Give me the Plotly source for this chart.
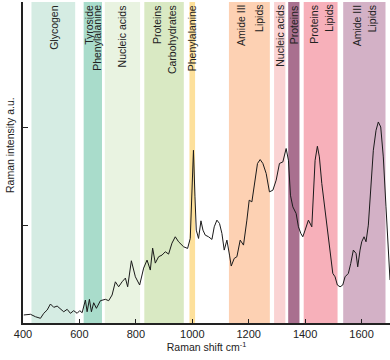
import plotly.graph_objects as go

# ---- data ----
shift = [402.8, 426.5, 444.2, 461.9, 473.6, 485.7, 497.3, 509.0, 521.1, 532.7,
         544.4, 556.5, 568.1, 579.8, 591.9, 601.1, 609.6, 621.2, 627.3, 635.4,
         642.5, 650.6, 660.2, 674.3, 692.0, 703.7, 715.8, 727.4, 739.1, 751.2,
         762.9, 771.0, 784.1, 798.3, 813.5, 827.6, 839.7, 851.3, 859.5, 869.0,
         880.7, 892.7, 904.4, 916.1, 928.1, 939.8, 951.5, 969.2, 983.4, 992.9,
         998.9, 1004.2, 1009.6, 1014.2, 1022.3, 1030.8, 1037.9, 1046.0, 1057.7, 1069.7,
         1077.9, 1087.4, 1096.6, 1105.1, 1113.3, 1122.8, 1132.0, 1138.1, 1148.7, 1158.2,
         1169.9, 1181.6, 1193.6, 1201.8, 1211.3, 1223.0, 1231.2, 1240.7, 1250.3, 1262.0,
         1273.6, 1285.7, 1297.4, 1309.0, 1321.1, 1332.7, 1340.9, 1348.0, 1356.5, 1368.1,
         1376.3, 1384.8, 1391.8, 1400.0, 1411.7, 1423.7, 1429.4, 1435.4, 1443.5, 1450.6,
         1459.1, 1470.8, 1482.5, 1491.0, 1498.1, 1506.2, 1514.3, 1523.9, 1533.4, 1541.6,
         1553.3, 1561.8, 1571.0, 1580.5, 1586.5, 1594.7, 1600.7, 1608.9, 1615.9, 1624.1,
         1632.6, 1641.8, 1651.4, 1659.5, 1668.0, 1677.2, 1686.7, 1694.9, 1700.9]
intensity = [0.082, 0.089, 0.064, 0.048, 0.099, 0.133, 0.194, 0.160, 0.173, 0.140,
             0.115, 0.140, 0.099, 0.126, 0.099, 0.126, 0.105, 0.235, 0.115, 0.242,
             0.115, 0.207, 0.150, 0.228, 0.242, 0.228, 0.286, 0.421, 0.370, 0.421,
             0.459, 0.370, 0.636, 0.472, 0.388, 0.561, 0.643, 0.541, 0.765, 0.612,
             0.677, 0.694, 0.728, 0.704, 0.816, 0.881, 0.830, 0.779, 0.762, 0.864,
             1.289, 1.765, 1.289, 0.949, 0.864, 1.044, 0.949, 0.898, 0.881, 0.854,
             0.983, 1.051, 1.017, 0.915, 0.745, 0.847, 0.694, 0.582, 0.660, 0.677,
             0.847, 0.796, 1.051, 1.255, 1.238, 1.442, 1.630, 1.670, 1.630, 1.528,
             1.340, 1.357, 1.459, 1.630, 1.646, 1.783, 1.663, 1.306, 1.187, 1.119,
             0.983, 0.915, 0.881, 0.949, 1.051, 0.983, 1.289, 1.663, 1.806, 1.697,
             1.426, 1.153, 0.898, 0.711, 0.507, 0.472, 0.388, 0.370, 0.388, 0.472,
             0.507, 0.609, 0.745, 0.711, 0.574, 0.745, 0.830, 0.881, 0.830, 1.000,
             1.391, 1.765, 1.969, 2.054, 2.003, 1.697, 1.187, 0.711, 0.439]

band_start = [430, 615, 690, 830, 990, 1130, 1290, 1340, 1395, 1535]
band_end = [585, 680, 815, 970, 1010, 1275, 1330, 1380, 1515, 1685]
band_labels = [["Glycogen"], ["Tyroside", "Phenylalanine"], ["Nucleic acids"],
               ["Proteins", "Carbohydrates"], ["Phenylalanine"], ["Amide III", "Lipids"],
               ["Nucleic acids"], ["Proteins"], ["Proteins", "Lipids"], ["Amide III", "Lipids"]]

x_ticks = [400, 600, 800, 1000, 1200, 1400, 1600]
y_ticks = [1, 2]
x_title = "Raman shift cm<sup>-1</sup>"
y_title = "Raman intensity a.u."

# ---- style ----
band_colors = ["#d5ece3", "#a9dccb", "#e9f3e1", "#d9e9c3", "#fde09b",
               "#fdd1b3", "#fad3d3", "#a9708f", "#f7b0ba", "#d3b1c6"]
line_gaps = [0, 8, 0, 15, 0, 18, 0, 0, 15, 15]
FONT = "Liberation Sans, Arial, sans-serif"
TXT = "#222222"

fig = go.Figure()
fig.add_trace(go.Scatter(x=shift, y=intensity, mode="lines",
                         line=dict(color="#1a1a1a", width=1), hoverinfo="skip",
                         showlegend=False))

for s, e, c in zip(band_start, band_end, band_colors):
    fig.add_shape(type="rect", xref="x", yref="paper", x0=s, x1=e, y0=0, y1=1,
                  fillcolor=c, line=dict(width=0), layer="below")

for s, e, lines, gap in zip(band_start, band_end, band_labels, line_gaps):
    cx = (s + e) / 2
    n = len(lines)
    for i, t in enumerate(lines):
        off = (i - (n - 1) / 2) * gap
        fig.add_annotation(x=cx, y=1, xref="x", yref="paper", text=t,
                           textangle=-90, showarrow=False, xanchor="center",
                           yanchor="top", xshift=off, yshift=-1,
                           font=dict(family=FONT, size=10.5, color=TXT))

fig.update_layout(
    width=390, height=360,
    margin=dict(l=23, r=0, t=2, b=37),
    plot_bgcolor="white", paper_bgcolor="white",
    font=dict(family=FONT, color=TXT),
    xaxis=dict(range=[400, 1700.9], tickvals=x_ticks, ticks="inside", ticklen=4,
               tickcolor="#222", showline=True, linecolor="#222", linewidth=1.5,
               showgrid=False, zeroline=False, tickfont=dict(size=11, color=TXT),
               title=dict(text=x_title, font=dict(size=10.5, color=TXT), standoff=0)),
    yaxis=dict(range=[0, 3.28], tickvals=y_ticks, ticks="inside", ticklen=5,
               tickcolor="#222", showline=True, linecolor="#222", linewidth=1.5,
               showgrid=False, zeroline=False, showticklabels=False),
)
fig.add_annotation(text=y_title, xref="paper", yref="paper",
                   x=-13 / 367, y=(323 - 145) / 321, textangle=-90, showarrow=False,
                   xanchor="center", yanchor="middle",
                   font=dict(family=FONT, size=10.5, color=TXT))

fig.write_html("out.html", config={"displayModeBar": False},
               post_script="document.body.style.margin='0';")
